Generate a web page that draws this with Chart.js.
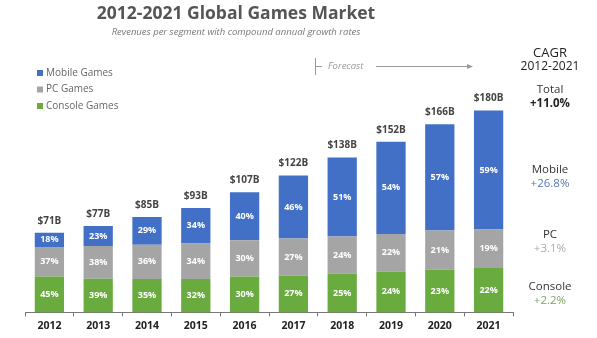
<!DOCTYPE html>
<html>
<head>
<meta charset="utf-8">
<script src="https://cdn.jsdelivr.net/npm/chart.js@4"></script>
<style>
  html, body { margin: 0; padding: 0; background: #fff; }
  #wrap { width: 597px; height: 338px; position: relative; }
</style>
</head>
<body>
<div id="wrap"><canvas id="gamesChart"></canvas></div>
<script>
// ==========================
// Data
// ==========================

const years = ["2012", "2013", "2014", "2015", "2016", "2017", "2018", "2019", "2020", "2021"];
const totals = [71, 77, 85, 93, 107, 122, 138, 152, 166, 180];   // $B
const mobilePct = [18, 23, 29, 34, 40, 46, 51, 54, 57, 59];
const pcPct = [37, 38, 36, 34, 30, 27, 24, 22, 21, 19];
const consolePct = [45, 39, 35, 32, 30, 27, 25, 24, 23, 22];

const cagrLabels = ["Total", "Mobile", "PC", "Console"];
const cagrValues = ["+11.0%", "+26.8%", "+3.1%", "+2.2%"];

const BLUE = "#4170c6";
const GRAY = "#a5a5a5";
const GREEN = "#6aab40";

// segment size in $B = share of the year's total
function part(pct) {
    return pct.map((p, i) => totals[i] * p / 100);
}

// ==========================
// Extra text (title, legend, labels, CAGR)
// ==========================

const textPlugin = {
    id: "textPlugin",
    afterDatasetsDraw(chart) {
        const c = chart.ctx;
        c.save();
        c.textAlign = "center";
        c.textBaseline = "middle";

        // title + subtitle
        c.fillStyle = "#555";
        c.font = "bold 17.5px 'Open Sans'";
        c.fillText("2012-2021 Global Games Market", 236, 14);
        c.fillStyle = "#777";
        c.font = "italic 9.5px 'Open Sans'";
        c.fillText("Revenues per segment with compound annual growth rates", 236, 32);

        // legend (top to bottom = reverse stacking order)
        const ds = chart.data.datasets;
        c.textAlign = "left";
        c.font = "10px 'Open Sans'";
        [2, 1, 0].forEach((k, row) => {
            const y = 73 + row * 16.5;
            c.fillStyle = ds[k].backgroundColor;
            c.fillRect(37, y - 3, 6, 6);
            c.fillStyle = "#666";
            c.fillText(ds[k].label, 46, y);
        });

        // forecast marker
        c.strokeStyle = "#999";
        c.lineWidth = 1;
        c.beginPath();
        c.moveTo(315.5, 58); c.lineTo(315.5, 75);
        c.moveTo(315.5, 66.5); c.lineTo(322, 66.5);
        c.moveTo(376, 66.5); c.lineTo(470, 66.5);
        c.stroke();
        c.fillStyle = "#999";
        c.beginPath();
        c.moveTo(473, 66.5); c.lineTo(467, 64); c.lineTo(467, 69);
        c.closePath(); c.fill();
        c.font = "italic 9.5px 'Open Sans'";
        c.fillText("Forecast", 328, 66);

        // percentages inside the segments
        c.textAlign = "center";
        c.font = "bold 9px 'Open Sans'";
        c.fillStyle = "#fff";
        const pcts = [consolePct, pcPct, mobilePct];
        ds.forEach((d, k) => {
            chart.getDatasetMeta(k).data.forEach((bar, i) => {
                c.fillText(pcts[k][i] + "%", bar.x, (bar.y + bar.base) / 2);
            });
        });

        // totals above bars
        c.font = "bold 10px 'Open Sans'";
        c.fillStyle = "#444";
        chart.getDatasetMeta(2).data.forEach((bar, i) => {
            c.fillText("$" + totals[i] + "B", bar.x, bar.y - 12);
        });

        // CAGR column
        const cx = 550;
        c.fillStyle = "#222";
        c.font = "13px 'Open Sans'";
        c.fillText("CAGR", cx, 53);
        c.font = "12px 'Open Sans'";
        c.fillText("2012-2021", cx, 67);

        const nameY = [90, 170, 235, 287];
        const valColors = ["#222", "#5577b8", "#aaaaaa", "#7fa36a"];
        cagrLabels.forEach((name, i) => {
            c.fillStyle = "#333";
            c.font = "11.5px 'Open Sans'";
            c.fillText(name, cx, nameY[i]);
            c.fillStyle = valColors[i];
            c.font = (i === 0 ? "bold " : "") + "11.5px 'Open Sans'";
            c.fillText(cagrValues[i], cx, nameY[i] + 14);
        });

        c.restore();
    }
};

// ==========================
// Chart
// ==========================

const ctx = document.getElementById("gamesChart");

new Chart(ctx, {
    type: "bar",
    data: {
        labels: years,
        datasets: [
            { label: "Console Games", data: part(consolePct), backgroundColor: GREEN },
            { label: "PC Games", data: part(pcPct), backgroundColor: GRAY },
            { label: "Mobile Games", data: part(mobilePct), backgroundColor: BLUE }
        ]
    },
    options: {
        responsive: true,
        maintainAspectRatio: false,
        animation: false,
        layout: { padding: { left: 25, right: 84, top: 88, bottom: 3 } },
        datasets: { bar: { categoryPercentage: 1.0, barPercentage: 0.6 } },
        plugins: {
            legend: { display: false },
            tooltip: { enabled: false }
        },
        scales: {
            x: {
                stacked: true,
                grid: {
                    offset: true,
                    drawOnChartArea: false,
                    drawTicks: true,
                    tickLength: 4,
                    color: "#777"
                },
                border: { display: true, color: "#777" },
                ticks: {
                    color: "#222",
                    padding: 3,
                    font: { family: "'Open Sans'", size: 10.5, weight: "bold" }
                }
            },
            y: {
                stacked: true,
                display: false,
                min: 0,
                max: 200
            }
        }
    },
    plugins: [textPlugin]
});
</script>
</body>
</html>
